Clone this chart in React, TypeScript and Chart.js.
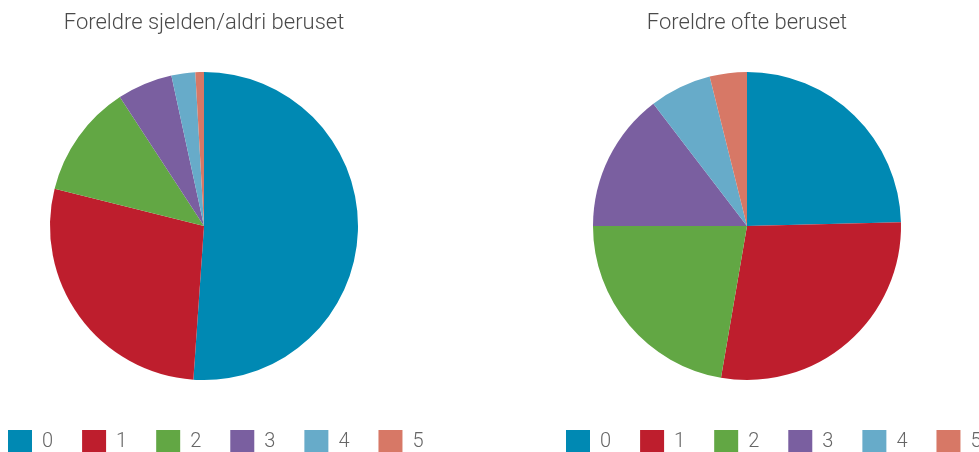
import React, { useEffect, useRef } from 'react';
import { Chart, registerables, layouts } from 'chart.js';

Chart.register(...registerables);

// ---- data ----
const categories = ['0', '1', '2', '3', '4', '5'];
const seldomValues = [51.1, 27.8, 11.9, 5.8, 2.5, 0.9];
const oftenValues = [24.6, 28.1, 22.3, 14.6, 6.5, 3.9];
const chartTitles = ['Foreldre sjelden/aldri beruset', 'Foreldre ofte beruset'];
const sliceColors = ['#0089B3', '#BE1E2D', '#62A744', '#7A5FA0', '#67ABC9', '#D77866'];

const FONT = 'Roboto, "Noto Sans", sans-serif';

// A blank layout box on the right that narrows the chart area (pie + title)
// while the full-size legend keeps the whole canvas width.
function makeSpacer(size: number) {
  return {
    id: 'rightSpacer',
    beforeInit(chart: any) {
      const box: any = {
        position: 'right',
        weight: 100,
        fullSize: false,
        options: {},
        width: 0,
        height: 0,
        left: 0,
        top: 0,
        right: 0,
        bottom: 0,
        isHorizontal: () => false,
        update(_maxWidth: number, maxHeight: number) {
          box.width = size;
          box.height = maxHeight;
        },
        draw() {},
      };
      layouts.addBox(chart, box);
    },
  };
}

function buildConfig(title: string, values: number[], spacer: number): any {
  return {
    type: 'pie',
    data: {
      labels: categories,
      datasets: [
        {
          data: values,
          backgroundColor: sliceColors,
          borderWidth: 0,
          radius: 154,
        },
      ],
    },
    options: {
      responsive: false,
      animation: false,
      layout: { padding: 0 },
      plugins: {
        title: {
          display: true,
          text: title,
          fullSize: false,
          color: '#4a4a4a',
          font: { family: FONT, size: 22, weight: 300, lineHeight: 1.2 },
          padding: { top: 10.3, bottom: 14.3 },
        },
        legend: {
          display: true,
          position: 'bottom',
          align: 'start',
          fullSize: true,
          labels: {
            boxWidth: 24,
            boxHeight: 24,
            padding: 29,
            color: '#666666',
            font: { family: FONT, size: 20, weight: 300 },
          },
        },
        tooltip: { enabled: false },
      },
    },
    plugins: [makeSpacer(spacer)],
  };
}

export default function App() {
  const leftRef = useRef<HTMLCanvasElement | null>(null);
  const rightRef = useRef<HTMLCanvasElement | null>(null);

  useEffect(() => {
    const charts: Chart[] = [];
    if (leftRef.current) {
      charts.push(new Chart(leftRef.current, buildConfig(chartTitles[0], seldomValues, 40)));
    }
    if (rightRef.current) {
      charts.push(new Chart(rightRef.current, buildConfig(chartTitles[1], oftenValues, 70)));
    }
    return () => {
      charts.forEach((c) => c.destroy());
    };
  }, []);

  return (
    <div
      style={{
        position: 'fixed',
        left: 0,
        top: 0,
        width: 979,
        height: 452,
        overflow: 'hidden',
        background: '#ffffff',
      }}
    >
      <canvas
        ref={leftRef}
        width={490}
        height={464}
        style={{ position: 'absolute', left: -21, top: 0 }}
      />
      <canvas
        ref={rightRef}
        width={490}
        height={464}
        style={{ position: 'absolute', left: 537, top: 0 }}
      />
    </div>
  );
}
